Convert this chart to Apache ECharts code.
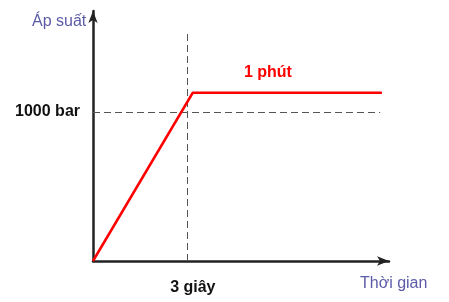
<!DOCTYPE html>
<html>
<head>
<meta charset="utf-8">
<script src="https://cdn.jsdelivr.net/npm/echarts@6/dist/echarts.min.js"></script>
<style>html,body{margin:0;padding:0;background:#fff}#c{width:449px;height:302px}</style>
</head>
<body>
<div id="c"></div>
<script>
// Data (abstract units: axes run 0..100)
const timePoints = [0, 33.7, 97.6];
const pressureValues = [0, 67.3, 67.3];
const refTime = 31.7;            // "3 giây"
const refPressure = 59.6;        // "1000 bar"
const refTimeLineTop = 92.4;
const refPressureLineEnd = 97;
const xTickLabels = ['3 giây'];
const yTickLabels = ['1000 bar'];
const plateauLabel = '1 phút';
const plateauLabelPos = [59.1, 75.2];
const axisNames = ['Thời gian', 'Áp suất'];

const chart = echarts.init(document.getElementById('c'), null, {renderer: 'canvas'});
const F = 'Liberation Sans, Arial, sans-serif';
const NAME_COLOR = '#5b5ba8';
chart.setOption({
  animation: false,
  grid: {left: 93, right: 60, top: 11, bottom: 41, containLabel: false},
  xAxis: {
    type: 'value', min: 0, max: 100,
    splitLine: {show: false},
    axisTick: {show: false},
    axisLine: {show: true, onZero: false, symbol: ['none', 'arrow'], symbolSize: [7, 12], lineStyle: {color: '#222', width: 2.5}},
    axisLabel: {customValues: [refTime], formatter: () => xTickLabels[0], margin: 19, padding: [0, 0, 0, 12],
      fontFamily: F, fontSize: 16, fontWeight: 'bold', color: '#111'}
  },
  yAxis: {
    type: 'value', min: 0, max: 100,
    splitLine: {show: false},
    axisTick: {show: false},
    axisLine: {show: true, onZero: false, symbol: ['none', 'arrow'], symbolSize: [7, 12], lineStyle: {color: '#222', width: 2.5}},
    axisLabel: {customValues: [refPressure], formatter: () => yTickLabels[0], margin: 13, padding: [3, 0, 0, 0],
      fontFamily: F, fontSize: 16, fontWeight: 'bold', color: '#111'}
  },
  graphic: [
    {type: 'text', left: 360, top: 276, style: {text: axisNames[0], font: '16px ' + F, fill: NAME_COLOR}},
    {type: 'text', left: 32, top: 14, style: {text: axisNames[1], font: '16px ' + F, fill: NAME_COLOR}}
  ],
  series: [{
    type: 'line',
    data: timePoints.map((t, i) => [t, pressureValues[i]]),
    showSymbol: false,
    lineStyle: {color: '#ff0000', width: 2.5},
    z: 3,
    markLine: {
      silent: true, symbol: 'none',
      lineStyle: {color: '#555', width: 1, type: [7, 4]},
      label: {show: false},
      data: [
        [{coord: [refTime, 0]}, {coord: [refTime, refTimeLineTop]}],
        [{coord: [0, refPressure]}, {coord: [refPressureLineEnd, refPressure]}]
      ],
      z: 2
    },
    markPoint: {
      symbol: 'circle', symbolSize: 0,
      data: [{coord: plateauLabelPos, value: plateauLabel}],
      label: {show: true, position: 'inside', formatter: () => plateauLabel,
        fontFamily: F, fontSize: 16, fontWeight: 'bold', color: '#ff0000'}
    }
  }]
});
</script>
</body>
</html>
